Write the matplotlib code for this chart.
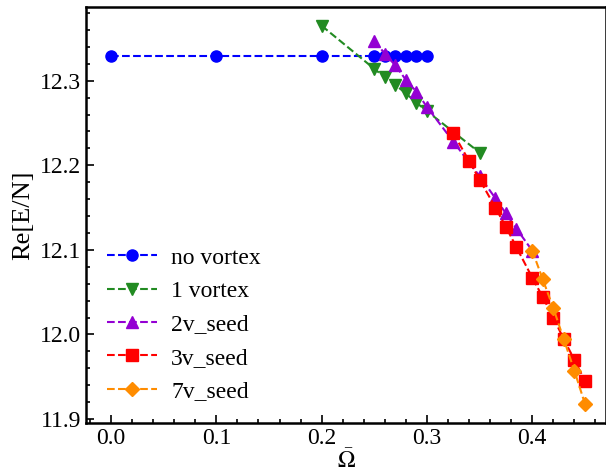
import matplotlib
matplotlib.use('Agg')
import matplotlib.pyplot as plt
from matplotlib.ticker import MultipleLocator

plt.rcParams['font.family'] = ['Liberation Serif', 'DejaVu Serif']
plt.rcParams['mathtext.fontset'] = 'stix'

# data
omega_nov = [0.0, 0.1, 0.2, 0.25, 0.26, 0.27, 0.28, 0.29, 0.30]
e_nov = [12.329] * 9

omega_1v = [0.2, 0.25, 0.26, 0.27, 0.28, 0.29, 0.30, 0.35]
e_1v = [12.365, 12.314, 12.304, 12.295, 12.285, 12.274, 12.264, 12.215]

omega_2v = [0.25, 0.26, 0.27, 0.28, 0.29, 0.30, 0.325, 0.35, 0.365, 0.375, 0.385, 0.40]
e_2v = [12.347, 12.332, 12.318, 12.301, 12.287, 12.269, 12.228, 12.187, 12.161, 12.143, 12.125, 12.099]

omega_3v = [0.325, 0.34, 0.35, 0.365, 0.375, 0.385, 0.40, 0.41, 0.42, 0.43, 0.44, 0.45]
e_3v = [12.238, 12.205, 12.183, 12.150, 12.127, 12.103, 12.067, 12.044, 12.020, 11.994, 11.970, 11.945]

omega_7v = [0.40, 0.41, 0.42, 0.43, 0.44, 0.45]
e_7v = [12.099, 12.065, 12.031, 11.994, 11.957, 11.918]

labels = ['no vortex', '1 vortex', '2v_seed', '3v_seed', '7v_seed']

fig = plt.figure(figsize=(6.06, 4.75), dpi=100)
ax = fig.add_axes([0.142, 0.109, 0.858, 0.876])

ms = 8
ax.plot(omega_nov, e_nov, 'o--', color='#0000ff', ms=ms, label=labels[0])
ax.plot(omega_1v, e_1v, 'v--', color='#228b22', ms=ms, label=labels[1])
ax.plot(omega_2v, e_2v, '^--', color='#9400d3', ms=ms, label=labels[2])
ax.plot(omega_3v, e_3v, 's--', color='#ff0000', ms=ms, label=labels[3])
ax.plot(omega_7v, e_7v, 'D--', color='#ff8c00', ms=7, label=labels[4])

ax.set_xlim(-0.0237, 0.470)
ax.set_ylim(11.895, 12.387)

ax.xaxis.set_major_locator(MultipleLocator(0.1))
ax.xaxis.set_minor_locator(MultipleLocator(0.02))
ax.yaxis.set_major_locator(MultipleLocator(0.1))
ax.yaxis.set_minor_locator(MultipleLocator(0.02))
ax.tick_params(which='both', direction='in', top=False, right=False, labelsize=17, width=1.2)
ax.tick_params(which='major', length=6)
ax.tick_params(which='minor', length=3)
for s in ax.spines.values():
    s.set_linewidth(1.8)

ax.set_xlabel(r'$\bar{\Omega}$', fontsize=17, labelpad=0)
ax.set_ylabel('Re[E/N]', fontsize=19, labelpad=4)

ax.legend(loc='lower left', bbox_to_anchor=(0.0, 0.0), frameon=False, fontsize=17,
          handlelength=2.1, handletextpad=0.6, labelspacing=0.5)

fig.savefig('out.png', dpi=100)
